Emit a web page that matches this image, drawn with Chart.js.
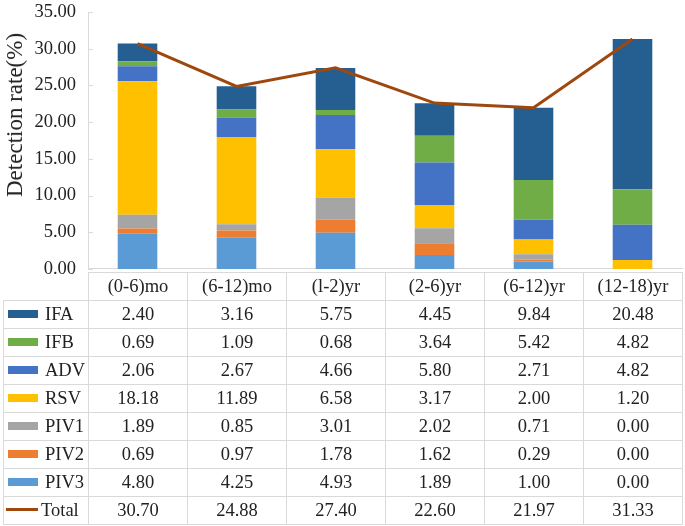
<!DOCTYPE html>
<html>
<head>
<meta charset="utf-8">
<script src="https://cdn.jsdelivr.net/npm/chart.js@4"></script>
<style>
  body { margin: 0; background: #fff; font-family: "Liberation Serif", "Times New Roman", serif; }
  #wrap { position: relative; width: 685px; height: 526px; overflow: hidden; }
  #chart { position: absolute; left: 0; top: -11px; }
  #ytitle { position: absolute; left: 15px; top: 115px; transform: translate(-50%, -50%) rotate(-90deg); font-size: 23px; color: #222; white-space: nowrap; }
  #tbl { position: absolute; left: 3px; top: 272px; border-collapse: collapse; table-layout: fixed; font-size: 18.5px; color: #222; }
  #tbl td { border: 1px solid #d9d9d9; height: 27px; padding: 0; text-align: center; }
  #tbl td.lab { text-align: left; white-space: nowrap; }
  #tbl td.blank { border: none; }
  .sw { display: inline-block; width: 30px; height: 8px; margin: 0 7px 0 4px; vertical-align: middle; position: relative; top: -2px; }
  .ln { display: inline-block; width: 32px; height: 3px; margin: 0 3px 0 2px; vertical-align: middle; position: relative; top: -2px; }
</style>
</head>
<body>
<div id="wrap">
  <canvas id="chart" width="685" height="303"></canvas>
  <div id="ytitle">Detection rate(%)</div>
  <table id="tbl"></table>
</div>
<script>
const categories = ['(0-6)mo', '(6-12)mo', '(l-2)yr', '(2-6)yr', '(6-12)yr', '(12-18)yr'];
const IFA  = [2.40, 3.16, 5.75, 4.45, 9.84, 20.48];
const IFB  = [0.69, 1.09, 0.68, 3.64, 5.42, 4.82];
const ADV  = [2.06, 2.67, 4.66, 5.80, 2.71, 4.82];
const RSV  = [18.18, 11.89, 6.58, 3.17, 2.00, 1.20];
const PIV1 = [1.89, 0.85, 3.01, 2.02, 0.71, 0.00];
const PIV2 = [0.69, 0.97, 1.78, 1.62, 0.29, 0.00];
const PIV3 = [4.80, 4.25, 4.93, 1.89, 1.00, 0.00];
const Total = [30.70, 24.88, 27.40, 22.60, 21.97, 31.33];

// table rows, top to bottom (same order as the picture)
const rows = [
  { name: 'IFA', data: IFA, color: '#255E91' },
  { name: 'IFB', data: IFB, color: '#70AD47' },
  { name: 'ADV', data: ADV, color: '#4472C4' },
  { name: 'RSV', data: RSV, color: '#FFC000' },
  { name: 'PIV1', data: PIV1, color: '#A5A5A5' },
  { name: 'PIV2', data: PIV2, color: '#ED7D31' },
  { name: 'PIV3', data: PIV3, color: '#5B9BD5' }
];

const serif = '"Liberation Serif", "Times New Roman", serif';

// bars stack from the bottom: PIV3 first
const datasets = rows.slice().reverse().map(r => ({
  type: 'bar',
  label: r.name,
  data: r.data,
  backgroundColor: r.color,
  stack: 'bars',
  categoryPercentage: 1,
  barPercentage: 0.4,
  order: 2
}));
datasets.push({
  type: 'line',
  label: 'Total',
  data: Total,
  borderColor: '#9E480E',
  borderWidth: 3,
  pointRadius: 0,
  tension: 0,
  stack: 'total',
  order: 1
});

// short tick marks on the inside of the y axis
const innerTicks = {
  id: 'innerTicks',
  afterDatasetsDraw(chart) {
    const y = chart.scales.y, ctx = chart.ctx, left = chart.chartArea.left;
    ctx.save();
    ctx.strokeStyle = '#d9d9d9';
    ctx.lineWidth = 1;
    y.ticks.forEach(t => {
      const py = Math.round(y.getPixelForValue(t.value)) + 0.5;
      ctx.beginPath();
      ctx.moveTo(left, py);
      ctx.lineTo(left + 5, py);
      ctx.stroke();
    });
    ctx.restore();
  }
};

new Chart(document.getElementById('chart'), {
  data: { labels: categories, datasets: datasets },
  plugins: [innerTicks],
  options: {
    responsive: false,
    animation: false,
    layout: { padding: { top: 0, right: 3, bottom: 17, left: 0 } },
    plugins: { legend: { display: false }, tooltip: { enabled: false } },
    scales: {
      x: {
        stacked: true,
        display: true,
        ticks: { display: false },
        grid: { display: false, drawTicks: false },
        border: { color: '#d9d9d9' }
      },
      y: {
        stacked: true,
        min: 0,
        max: 35,
        ticks: { stepSize: 5, color: '#222', font: { family: serif, size: 18.5 }, padding: 12, callback: v => v.toFixed(2) },
        grid: { display: false, drawTicks: false },
        border: { color: '#d9d9d9' },
        afterFit: s => { s.width = 88; }
      }
    }
  }
});

// data table under the plot
const tbl = document.getElementById('tbl');
let html = '<colgroup><col style="width:85px">' + categories.map(() => '<col style="width:99px">').join('') + '</colgroup>';
html += '<tr><td class="blank"></td>' + categories.map(c => '<td>' + c + '</td>').join('') + '</tr>';
rows.forEach(r => {
  html += '<tr><td class="lab"><span class="sw" style="background:' + r.color + '"></span>' + r.name + '</td>' +
    r.data.map(v => '<td>' + v.toFixed(2) + '</td>').join('') + '</tr>';
});
html += '<tr><td class="lab"><span class="ln" style="background:#9E480E"></span>Total</td>' +
  Total.map(v => '<td>' + v.toFixed(2) + '</td>').join('') + '</tr>';
tbl.innerHTML = html;
</script>
</body>
</html>
